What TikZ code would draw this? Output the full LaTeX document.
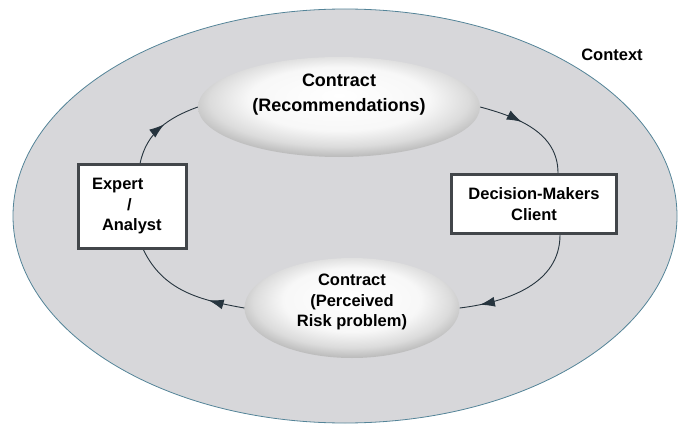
\documentclass[tikz,border=0pt]{standalone}
\usepackage{fontspec}
\setsansfont{Liberation Sans}
\usetikzlibrary{shapes,arrows.meta,positioning,decorations.markings}

\definecolor{ctxfill}{RGB}{215,215,218}
\definecolor{ctxline}{RGB}{84,132,152}
\definecolor{boxline}{RGB}{66,70,74}
\definecolor{flowline}{RGB}{38,52,62}

% white centre, grey rim, light from above
\pgfdeclareradialshading{contractshade}{\pgfpoint{0bp}{6bp}}{%
  color(0bp)=(white); color(16bp)=(white!97!black);
  color(23bp)=(white!86!black); color(28bp)=(white!72!black);
  color(50bp)=(white!72!black)}

\begin{document}
\begin{tikzpicture}[x=1pt,y=1pt]
  \tikzstyle{txt}=[font=\sffamily\bfseries\fontsize{16.5}{20.5}\selectfont,align=center,text=black]
  \tikzstyle{contract}=[ellipse,inner sep=0pt,shading=contractshade]
  \tikzstyle{actor}=[rectangle,txt,draw=boxline,line width=3pt,fill=white]
  \tikzset{flow/.style={draw=flowline,line width=0.9pt,postaction={decorate},
      decoration={markings,mark=at position #1 with {\arrow{Latex[length=15pt,width=10pt]}}}}}

  \useasboundingbox (0,0) rectangle (680,-428);

  % context
  \node[ellipse,minimum width=664pt,minimum height=414pt,fill=ctxfill,draw=ctxline,line width=0.8pt] (ctx) at (345,-216) {};
  \node[txt] (ctxlabel) at (612,-55) {Context};

  % contracts
  \node[contract,minimum width=282pt,minimum height=100pt,
        label={[txt,font=\sffamily\bfseries\fontsize{18}{25}\selectfont,yshift=12pt]center:Contract\\(Recommendations)}] (recom) at (339,-107) {};
  \node[contract,minimum width=215pt,minimum height=100pt,
        label={[txt,yshift=6pt]center:Contract\\(Perceived\\Risk problem)}] (risk) at (352,-308) {};

  % actors
  \node[actor,align=left,text width=81pt,inner xsep=13.5pt,minimum height=84pt] (expert) at (132.5,-206.5) {Expert\\\hspace*{35pt}/\\\hspace*{10pt}Analyst};
  \node[actor,minimum width=165pt,minimum height=59pt] (client) at (534,-204) {Decision-Makers\\Client};

  % loop
  \path[flow=0.55] (expert.80) to[out=78,in=200] (recom.west);
  \path[flow=0.4] (recom.east) to[out=-15,in=90] ([xshift=24pt]client.north);
  \path[flow=0.85] ([xshift=26pt]client.south) to[out=-90,in=7] (risk.east);
  \path[flow=0.3] (risk.west) to[out=170,in=-64] ([xshift=11pt]expert.south);
\end{tikzpicture}
\end{document}
